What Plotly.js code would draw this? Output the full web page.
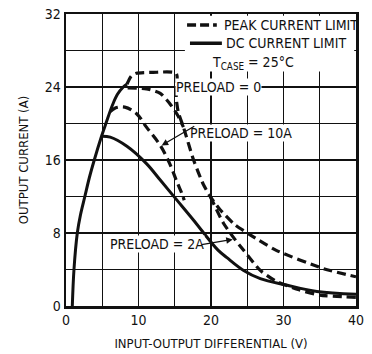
<!DOCTYPE html>
<html>
<head>
<meta charset="utf-8">
<script src="https://cdn.plot.ly/plotly-3.0.1.min.js"></script>
<style>html,body{margin:0;padding:0;background:#fff;}#chart{width:372px;height:354px;}</style>
</head>
<body>
<div id="chart"></div>
<script>
// ---- data ----
const riseV = [0.87, 1.1, 1.56, 2.0, 2.6, 3.2, 3.9, 4.9, 5.5, 6.4, 7.1, 7.9, 8.4];
const riseI = [0, 4, 8, 10, 12, 14, 16, 18.6, 20, 22, 23.2, 24, 24.3];

const dcV = [4.9, 6.1, 8.4, 11.1, 13, 15.3, 17.6, 19.9, 21, 22.2, 24.5, 26.8, 30.4, 34.6, 40];
const dcI = [18.6, 18.5, 17.5, 15.6, 13.8, 11.6, 9.4, 7.1, 6.1, 5.3, 3.9, 3.0, 2.3, 1.6, 1.3];

const peak0V = [8.4, 9.0, 9.7, 12, 15.2, 15.2, 15.5, 16.2, 17.6, 18.9, 19.9, 21.2, 23.3, 25.4, 29, 35.5, 40];
const peak0I = [24.3, 25.2, 25.5, 25.6, 25.5, 22.8, 21.2, 19.6, 16, 13.4, 12.0, 10.6, 8.9, 7.8, 6.1, 4.1, 3.2];

const peak2TopV = [8.5, 11.1, 13, 14.3, 15.4, 16.2];
const peak2TopI = [23.9, 23.8, 23.3, 22.2, 20.9, 19.6];
const peak2LowV = [19.9, 21.7, 23.3, 24.5, 26.8, 29, 32, 35, 40];
const peak2LowI = [12.0, 9.1, 7.3, 6.1, 3.9, 2.7, 1.8, 1.2, 0.95];

const peak10V = [6.1, 6.8, 8.1, 9.7, 11.1, 13, 14.3, 15.3, 16.0, 16.3];
const peak10I = [21.3, 21.7, 21.8, 21.1, 19.6, 17.6, 15.6, 13.6, 12.3, 11.6];

const xTickVals = [0, 5, 10, 15, 20, 25, 30, 35, 40];
const xTickText = ['0', '', '10', '', '20', '', '30', '', '40'];
const yTickVals = [0, 4, 8, 12, 16, 20, 24, 28, 32];
const yTickText = ['0', '', '8', '', '16', '', '24', '', '32'];

const legendPeak = 'PEAK CURRENT LIMIT';
const legendDC = 'DC CURRENT LIMIT';
const tcaseText = 'T<sub>CASE</sub> = 25°C';
const label0 = 'PRELOAD = 0';
const label10 = 'PRELOAD = 10A';
const label2 = 'PRELOAD = 2A';

// ---- styles ----
const FONT = '"DejaVu Sans Condensed", "Liberation Sans Narrow", "Arial Narrow", sans-serif';
const INK = '#111';
const solid = {color: INK, width: 3, shape: 'spline'};
const dashed = {color: INK, width: 3.2, dash: '9px,5px', shape: 'spline', smoothing: 0.6};

const traces = [
  {x: riseV, y: riseI, mode: 'lines', line: solid},
  {x: dcV, y: dcI, mode: 'lines', line: solid},
  {x: peak0V, y: peak0I, mode: 'lines', line: dashed},
  {x: peak2TopV, y: peak2TopI, mode: 'lines', line: dashed},
  {x: peak2LowV, y: peak2LowI, mode: 'lines', line: dashed},
  {x: peak10V, y: peak10I, mode: 'lines', line: Object.assign({}, dashed, {smoothing: 1})}
];

const axisCommon = {
  fixedrange: true,
  showgrid: true, gridcolor: INK, gridwidth: 1.2,
  showline: true, mirror: true, linecolor: INK, linewidth: 2.5,
  zeroline: false, ticks: '',
  tickfont: {family: FONT, size: 14, color: INK}
};

const layout = {
  width: 372, height: 354,
  margin: {l: 66, r: 16, t: 14, b: 48},
  paper_bgcolor: '#fff', plot_bgcolor: '#fff',
  font: {family: FONT, color: INK, size: 14},
  showlegend: false,
  xaxis: Object.assign({}, axisCommon, {
    range: [0, 40], tickvals: xTickVals, ticktext: xTickText,
    title: {text: 'INPUT-OUTPUT DIFFERENTIAL (V)', font: {family: FONT, size: 13, color: INK}, standoff: 12}
  }),
  yaxis: Object.assign({}, axisCommon, {
    range: [0, 32], tickvals: yTickVals, ticktext: yTickText,
    title: {text: 'OUTPUT CURRENT (A)', font: {family: FONT, size: 13, color: INK}, standoff: 13}
  }),
  shapes: [
    {type: 'rect', xref: 'x', yref: 'y', x0: 16.4, x1: 39.75, y0: 25.7, y1: 31.8, fillcolor: '#fff', line: {width: 0}, layer: 'above'},
    {type: 'line', xref: 'x', yref: 'y', x0: 16.7, x1: 20.8, y0: 30.8, y1: 30.8, line: {color: INK, width: 3.5, dash: '9px,4px'}},
    {type: 'line', xref: 'x', yref: 'y', x0: 17.1, x1: 21.5, y0: 28.8, y1: 28.8, line: {color: INK, width: 3.5}}
  ],
  annotations: [
    {x: 21.5, y: 30.8, xref: 'x', yref: 'y', text: legendPeak, showarrow: false, xanchor: 'left', yanchor: 'middle', font: {family: FONT, size: 14, color: INK}},
    {x: 21.8, y: 28.8, xref: 'x', yref: 'y', text: legendDC, showarrow: false, xanchor: 'left', yanchor: 'middle', font: {family: FONT, size: 14, color: INK}},
    {x: 19.8, y: 26.6, xref: 'x', yref: 'y', text: tcaseText, showarrow: false, xanchor: 'left', yanchor: 'middle', font: {family: FONT, size: 14, color: INK}},
    {x: 21.0, y: 23.95, xref: 'x', yref: 'y', text: label0, showarrow: false, bgcolor: '#fff', borderpad: 0, font: {family: FONT, size: 14, color: INK}},
    {x: 24.2, y: 19.0, xref: 'x', yref: 'y', text: label10, showarrow: false, bgcolor: '#fff', borderpad: 0, font: {family: FONT, size: 14, color: INK}},
    {x: 12.5, y: 6.8, xref: 'x', yref: 'y', text: label2, showarrow: false, bgcolor: '#fff', borderpad: 0, font: {family: FONT, size: 14, color: INK}},
    {x: 13.2, y: 17.6, ax: 17.9, ay: 19.8, xref: 'x', yref: 'y', axref: 'x', ayref: 'y', text: '', showarrow: true, arrowhead: 2, arrowsize: 1, arrowwidth: 1.3, arrowcolor: INK},
    {x: 23.0, y: 7.3, ax: 18.5, ay: 6.7, xref: 'x', yref: 'y', axref: 'x', ayref: 'y', text: '', showarrow: true, arrowhead: 2, arrowsize: 1, arrowwidth: 1.3, arrowcolor: INK}
  ]
};

Plotly.newPlot('chart', traces, layout, {displayModeBar: false, staticPlot: true});
</script>
</body>
</html>
